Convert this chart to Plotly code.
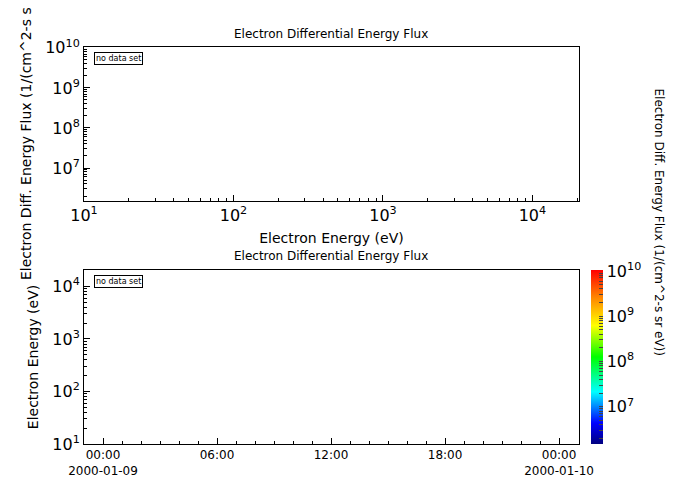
import plotly.graph_objects as go
import math

W, H = 687, 492
OFF = 8  # page body margin offset
title = "Electron Differential Energy Flux"
flux_label = "Electron Diff. Energy Flux (1/(cm^2-s sr eV))"
energy_label = "Electron Energy (eV)"
energy_range = [10, 2.05e4]
energy_ticks = [1, 2, 3, 4]
flux_range = [1.5e6, 1.05e10]
flux_ticks = [7, 8, 9, 10]
time_range = ["2000-01-08 23:00", "2000-01-10 01:03"]
time_ticks = ["2000-01-09 00:00", "2000-01-09 06:00", "2000-01-09 12:00",
              "2000-01-09 18:00", "2000-01-10 00:00"]
time_text = ["00:00<br>2000-01-09", "06:00", "12:00", "18:00", "00:00<br>2000-01-10"]
cscale = [[0, "#00007f"], [0.12, "#0000ff"], [0.3, "#00ffff"], [0.5, "#00ff00"],
          [0.68, "#ffff00"], [0.85, "#ff8000"], [1, "#ff0000"]]


def px(x):
    return (x - OFF) / W


def py(y):
    return 1 - (y - OFF) / H


def pw(e):
    return dict(tickvals=[10 ** e_ for e_ in e], ticktext=[f"10<sup>{e_}</sup>" for e_ in e])


lo, hi = math.log10(flux_range[0]), math.log10(flux_range[1])
cb_vals, cb_text = [], []
for d in range(6, 11):
    for m in range(1, 10):
        v = math.log10(m * 10 ** d)
        if lo <= v <= hi:
            cb_vals.append(v)
            cb_text.append(f"10<sup>{d}</sup>" if m == 1 else "")

fig = go.Figure()
fig.add_trace(go.Scatter(x=[None], y=[None], mode="markers", xaxis="x", yaxis="y", showlegend=False))
fig.add_trace(go.Scatter(
    x=[None], y=[None], mode="markers", xaxis="x2", yaxis="y2", showlegend=False,
    marker=dict(color=[lo], cmin=lo, cmax=hi, colorscale=cscale, showscale=True,
                colorbar=dict(x=px(591), xanchor="left", xref="paper", y=py(444), yanchor="bottom",
                              len=174 / H, lenmode="fraction", thickness=12, outlinewidth=0, xpad=0, ypad=0,
                              tickvals=cb_vals, ticktext=cb_text, ticks="inside", ticklen=4,
                              tickfont=dict(size=16), title=dict(text=""))),
))

font = dict(family="DejaVu Sans", size=12, color="black")
ax = dict(showline=True, linecolor="black", mirror=True, showgrid=False, zeroline=False, automargin=False,
          ticks="inside", tickcolor="black", ticklen=6, tickfont=dict(size=16))
minor = dict(ticks="inside", ticklen=3, dtick="D1", tickcolor="black")
fig.update_layout(
    width=W, height=H, margin=dict(l=0, r=0, t=0, b=0, autoexpand=False), font=font,
    plot_bgcolor="white", paper_bgcolor="white",
    xaxis=dict(ax, type="log", range=[math.log10(v) for v in energy_range], domain=[px(84), px(579)],
               anchor="y", minor=minor, **pw(energy_ticks),
               title=dict(text=energy_label, standoff=8)),
    yaxis=dict(ax, type="log", range=[math.log10(v) for v in flux_range], domain=[py(201), py(47)],
               anchor="x", minor=minor, **pw(flux_ticks),
               title=dict(text=flux_label, standoff=10)),
    xaxis2=dict(ax, type="date", range=time_range, domain=[px(84), px(579)], anchor="y2",
                tickvals=time_ticks, ticktext=time_text, tickfont=dict(size=12),
                minor=dict(ticks="inside", ticklen=3, dtick=3600000, tickcolor="black")),
    yaxis2=dict(ax, type="log", range=[math.log10(v) for v in energy_range], domain=[py(444), py(270)],
                anchor="x2", minor=minor, **pw(energy_ticks),
                title=dict(text=energy_label, standoff=10)),
    annotations=[
        dict(text=title, x=px(331), y=py(25), xref="paper", yref="paper", showarrow=False, font=dict(size=12)),
        dict(text=title, x=px(331), y=py(256), xref="paper", yref="paper", showarrow=False, font=dict(size=12)),
        dict(text="no data set", x=px(94), y=py(52), xref="paper", yref="paper", xanchor="left", yanchor="top",
             showarrow=False, font=dict(size=8), bordercolor="black", borderwidth=1, borderpad=1),
        dict(text="no data set", x=px(94), y=py(275), xref="paper", yref="paper", xanchor="left", yanchor="top",
             showarrow=False, font=dict(size=8), bordercolor="black", borderwidth=1, borderpad=1),
        dict(text=flux_label, x=px(668), y=py(357), xref="paper", yref="paper", textangle=90,
             showarrow=False, font=dict(size=12)),
    ],
)
fig.write_html("out.html")
